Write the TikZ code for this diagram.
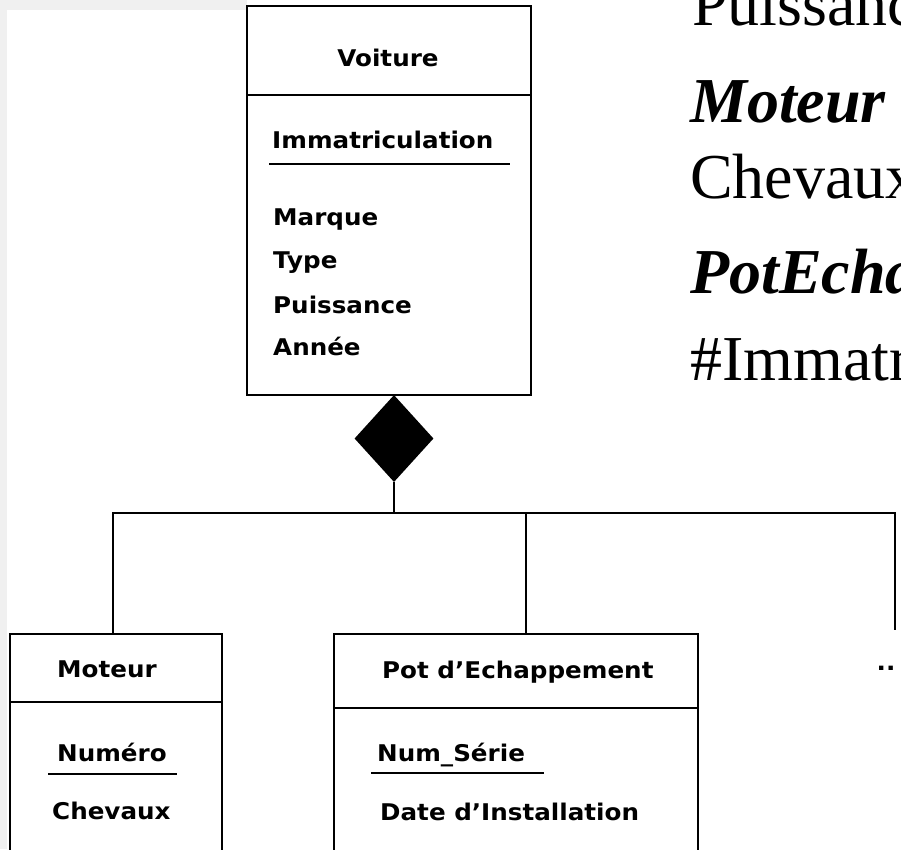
\documentclass[tikz,border=0pt]{standalone}
\usepackage{fontspec}
\usetikzlibrary{shapes.geometric}
\newfontfamily\umlfont{DejaVu Sans}[FakeStretch=1.07]
\newfontfamily\slidefont{Liberation Serif}
\definecolor{slidegray}{HTML}{F0F0F0}
\tikzset{
  umlbox/.style={draw, line width=2pt, rectangle, inner sep=0pt},
  link/.style={line width=2pt},
  uline/.style={line width=1.6pt},
  umltext/.style={inner sep=0pt, font=\umlfont\bfseries\fontsize{23}{27}\selectfont},
  slidetext/.style={inner sep=0pt, anchor=base west, font=\slidefont\fontsize{64}{70}\selectfont},
  slidehead/.style={slidetext, font=\slidefont\bfseries\itshape\fontsize{64}{70}\selectfont},
}
\begin{document}
\begin{tikzpicture}[x=1pt, y=-1pt]
\useasboundingbox (0,0) rectangle (901,849);
\clip (0,0) rectangle (901,849);
% page background
\fill[slidegray] (0,0) rectangle (901,849);
\fill[white] (7,10) rectangle (901,849);
\fill[white] (247,0) rectangle (901,10);

% class Voiture
\node[umlbox, minimum width=284pt, minimum height=389pt] (voiture) at (389,200.5) {};
\draw[link] (voiture.west |- 0,95) -- (voiture.east |- 0,95);
\node[umltext] (tvoit) at (388,58) {Voiture};
\node[umltext, anchor=west] (timm) at (272,140) {Immatriculation};
\draw[uline] (269,164) -- (510,164);
\node[umltext, anchor=west] (tmarq) at (273,220) {Marque};
\node[umltext, anchor=west] (ttype) at (273,263) {Type};
\node[umltext, anchor=west] (tpuis) at (273,305) {Puissance};
\node[umltext, anchor=west] (tann) at (273,346) {Année};

% composition diamond
\node[diamond, fill=black, inner sep=0pt, minimum width=79pt, minimum height=87pt] (comp) at (394,438.5) {};

% class Moteur
\node[umlbox, minimum width=212pt, minimum height=236pt] (moteur) at (116,752) {};
\draw[link] (moteur.west |- 0,702) -- (moteur.east |- 0,702);
\node[umltext] (tmot) at (107,669) {Moteur};
\node[umltext, anchor=west] (tnum) at (57,752) {Numéro};
\draw[uline] (48,774) -- (177,774);
\node[umltext, anchor=west] (tchev) at (52,811) {Chevaux};

% class Pot d'Echappement
\node[umlbox, minimum width=364pt, minimum height=236pt] (pot) at (516,752) {};
\draw[link] (pot.west |- 0,708) -- (pot.east |- 0,708);
\node[umltext, anchor=west] (tpot) at (382,672) {Pot d’Echappement};
\node[umltext, anchor=west] (tser) at (377,755) {Num\_Série};
\draw[uline] (371,773) -- (544,773);
\node[umltext, anchor=west] (tdate) at (380,812) {Date d’Installation};

% further parts
\node[umltext] (more) at (886,668) {..};
\coordinate (jc) at (394,513);
\coordinate (mtop) at (895,630);

% connectors
\draw[link] (comp.south) -- (jc);
\draw[link] ([xshift=-3pt]moteur.north) |- (jc) -| (mtop);
\draw[link] ([xshift=10pt]pot.north) -- ([xshift=10pt]pot.north |- jc);

% textual schema on the right
\node[slidetext] (s1) at (692,25) {Puissance};
\node[slidehead] (s2) at (690,122) {Moteur};
\node[slidetext] (s3) at (690,198) {Chevaux};
\node[slidehead] (s4) at (690,293) {PotEchappement};
\node[slidetext] (s5) at (690,380) {\#Immatriculation};
\end{tikzpicture}
\end{document}
